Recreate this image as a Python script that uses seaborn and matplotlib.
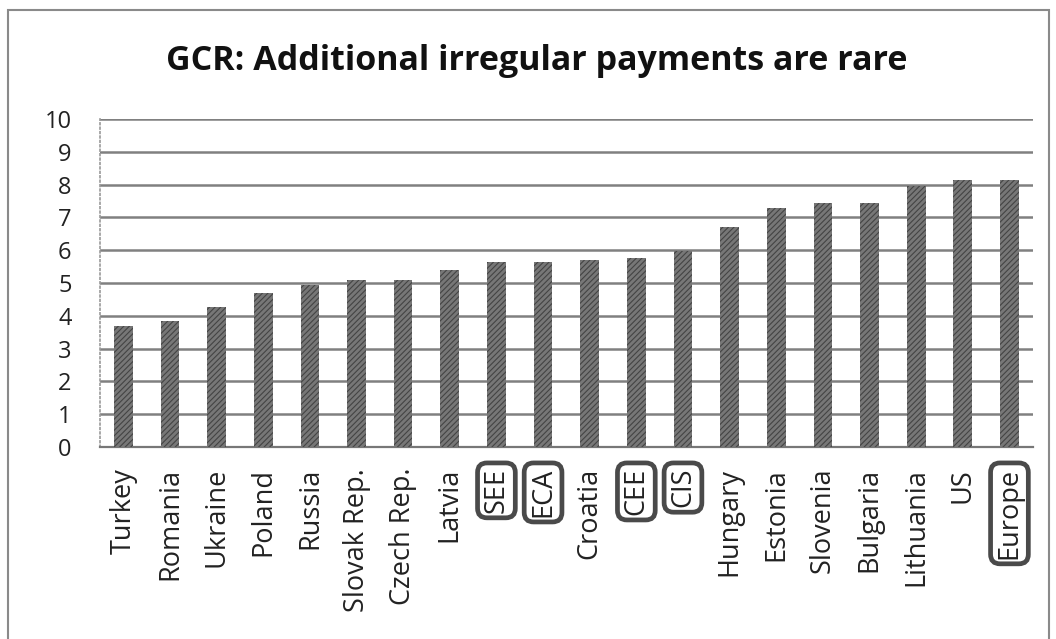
import numpy as np
import pandas as pd
import seaborn as sns
import matplotlib.pyplot as plt
from matplotlib.patches import Rectangle

# data
countries = ["Turkey", "Romania", "Ukraine", "Poland", "Russia", "Slovak Rep.",
             "Czech Rep.", "Latvia", "SEE", "ECA", "Croatia", "CEE", "CIS",
             "Hungary", "Estonia", "Slovenia", "Bulgaria", "Lithuania", "US", "Europe"]
scores = [3.70, 3.83, 4.27, 4.68, 4.94, 5.08, 5.08, 5.39, 5.65, 5.65, 5.69,
          5.75, 5.98, 6.70, 7.30, 7.43, 7.43, 7.97, 8.13, 8.13]
boxed = ["SEE", "ECA", "CEE", "CIS", "Europe"]
yticks = list(range(0, 11))

sns.set_theme(style="white")
plt.rcParams['font.family'] = ['Open Sans', 'DejaVu Sans']
plt.rcParams['hatch.color'] = '#333333'
plt.rcParams['hatch.linewidth'] = 0.8

df = pd.DataFrame({"country": countries, "score": scores})

fig = plt.figure(figsize=(10.56, 6.39), dpi=100)
ax = fig.add_axes([0.0947, 0.3005, 0.8833, 0.5133])

sns.barplot(data=df, x="country", y="score", color="#777777", width=0.4,
            saturation=1, ax=ax, zorder=3)
for p in ax.patches:
    p.set_hatch("//////")
    p.set_edgecolor("#444444")
    p.set_linewidth(0)

ax.set_ylim(0, 10)
ax.set_xlim(-0.5, len(countries) - 0.5)
ax.set_yticks(yticks)
ax.yaxis.grid(True, color="#808080", linewidth=1.8, zorder=0)
ax.set_axisbelow(True)
ax.set_xlabel("")
ax.set_ylabel("")

for s in ["top", "right"]:
    ax.spines[s].set_visible(False)
ax.spines["left"].set_color("#999999")
ax.spines["left"].set_linestyle(":")
ax.spines["left"].set_linewidth(1.2)
ax.spines["bottom"].set_color("#777777")
ax.spines["bottom"].set_linewidth(1.6)

ax.tick_params(axis="y", length=6.5, width=1.6, color="#808080", pad=14,
               labelsize=17, labelcolor="#222222")
ax.tick_params(axis="x", which="major", length=0, pad=15, labelsize=19.5,
               labelcolor="#222222")
ax.set_xticks(np.arange(-0.5, len(countries), 1.0), minor=True)
ax.tick_params(axis="x", which="minor", length=4, width=0.8, color="#aaaaaa",
               direction="out")

for lab in ax.get_xticklabels():
    lab.set_rotation(90)
    if lab.get_text() in boxed:
        lab.set_bbox(dict(boxstyle="round,pad=0.18,rounding_size=0.35",
                          fc="white", ec="#4a4a4a", lw=3.4))

fig.text(0.508, 0.8905, "GCR: Additional irregular payments are rare",
         ha="center", va="baseline", fontsize=24.5, fontweight="bold",
         color="#111111")

# outer chart frame
fig.patches.append(Rectangle((0.0075, -0.02), 0.986, 1.004, transform=fig.transFigure,
                             fill=False, ec="#8a8a8a", lw=1.5))

fig.savefig("out.png", dpi=100)
